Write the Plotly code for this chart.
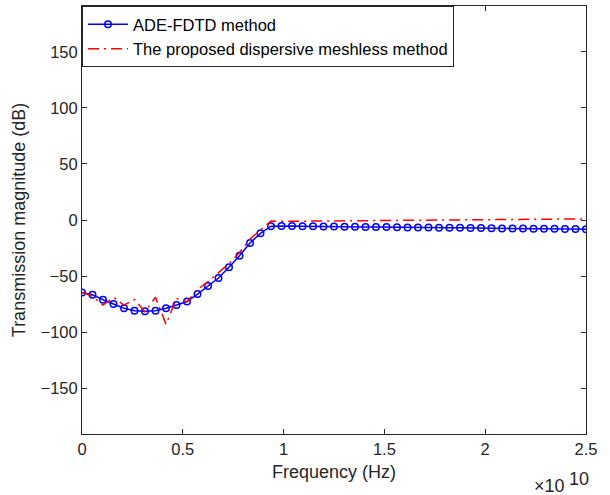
import numpy as np
import plotly.graph_objects as go

# Frequency grid (Hz): 49 samples from 0 to 2.5e10
freq = np.linspace(0, 2.5e10, 49)

ade_fdtd = [-64.6, -66.7, -71.2, -75.0, -78.8, -81.0, -81.5, -81.0, -78.8, -75.9,
            -72.7, -66.1, -58.9, -51.8, -42.2, -31.9, -20.5, -11.9, -5.5, -5.3,
            -5.4, -5.6, -5.6, -5.8, -5.9, -6.0, -6.0, -6.2, -6.3, -6.3,
            -6.5, -6.6, -6.6, -6.8, -6.9, -6.9, -7.0, -7.2, -7.2, -7.3,
            -7.5, -7.5, -7.6, -7.8, -7.8, -7.9, -8.0, -8.1, -8.2]

meshless = [-64.6, -68.0, -76.0, -69.0, -76.0, -71.0, -82.0, -69.0, -93.0, -70.0,
            -73.0, -62.0, -55.0, -47.0, -39.0, -29.0, -17.0, -9.0, -1.0, -1.2,
            -1.1, -1.0, -1.0, -0.9, -0.8, -0.7, -0.7, -0.6, -0.5, -0.4,
            -0.4, -0.3, -0.2, -0.1, -0.1, 0.0, 0.1, 0.2, 0.2, 0.3,
            0.4, 0.5, 0.5, 0.6, 0.7, 0.8, 0.8, 0.9, 1.0]

x_tickvals = [0, 0.5e10, 1e10, 1.5e10, 2e10, 2.5e10]
x_ticktext = ["0", "0.5", "1", "1.5", "2", "2.5"]
y_tickvals = [-150, -100, -50, 0, 50, 100, 150]

FONT = "Liberation Sans, Arial, sans-serif"
AX = "#262626"
TICK_SIZE = 16.5
TITLE_SIZE = 18

fig = go.Figure()
fig.add_trace(go.Scatter(
    x=freq, y=ade_fdtd, mode="lines+markers", name="ADE-FDTD method",
    line=dict(color="#0000ff", width=1.5),
    marker=dict(symbol="circle-open", size=6.5, color="#0000ff", line=dict(width=1.5)),
))
fig.add_trace(go.Scatter(
    x=freq, y=meshless, mode="lines", name="The proposed dispersive meshless method",
    line=dict(color="#ff0000", width=1.5, dash="11px,5px,2px,5px"),
))

fig.update_layout(
    width=610, height=495,
    margin=dict(l=82, r=24, t=6, b=61, autoexpand=False),
    paper_bgcolor="white", plot_bgcolor="white",
    font=dict(family=FONT, size=TICK_SIZE, color=AX),
    showlegend=True,
    legend=dict(x=0, y=1, xanchor="left", yanchor="top",
                bgcolor="white", bordercolor=AX, borderwidth=1,
                font=dict(family=FONT, size=16.5, color="black"),
                itemwidth=40, tracegroupgap=0),
    xaxis=dict(range=[0, 2.5e10], tickvals=x_tickvals, ticktext=x_ticktext,
               showgrid=False, zeroline=False, showline=True, linecolor=AX, linewidth=1,
               mirror="ticks", ticks="inside", ticklen=5, tickcolor=AX, automargin=False,
               tickfont=dict(size=TICK_SIZE, color=AX),
               title=dict(text="Frequency (Hz)", standoff=8, font=dict(size=TITLE_SIZE, color=AX))),
    yaxis=dict(range=[-191, 191], tickvals=y_tickvals,
               showgrid=False, zeroline=False, showline=True, linecolor=AX, linewidth=1,
               mirror="ticks", ticks="inside", ticklen=5, tickcolor=AX, automargin=False,
               tickfont=dict(size=TICK_SIZE, color=AX),
               title=dict(text="Transmission magnitude (dB)", standoff=10, font=dict(size=TITLE_SIZE, color=AX))),
    annotations=[
        dict(text="×10", xref="paper", yref="paper",
             x=(567 - 82) / 504, y=(434 - 486) / 428, xanchor="right", yanchor="middle",
             showarrow=False, font=dict(family=FONT, size=18, color=AX)),
        dict(text="10", xref="paper", yref="paper",
             x=(567 - 82) / 504, y=(434 - 479) / 428, xanchor="left", yanchor="middle",
             showarrow=False, font=dict(family=FONT, size=18, color=AX)),
    ],
)

fig.write_html("out.html", config={"displayModeBar": False},
               post_script="document.body.style.margin='0';document.body.style.padding='0';")
